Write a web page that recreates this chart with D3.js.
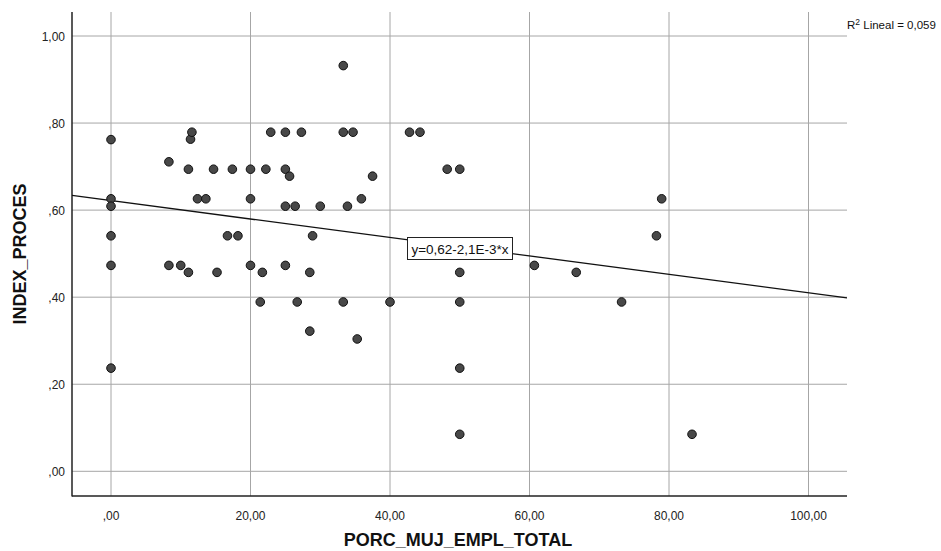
<!DOCTYPE html>
<html lang="es">
<head>
  <meta charset="UTF-8">
  <title>INDEX_PROCES vs PORC_MUJ_EMPL_TOTAL</title>
  <style>
    body {
      margin: 0;
      padding: 0;
      background: #fff;
      font-family: "Liberation Sans", Arial, sans-serif;
    }
    .grid line { stroke: #a6a6a6; stroke-width: 1; }
    .tick-label { font-size: 12px; fill: #222; }
    .axis-title { font-size: 18px; font-weight: bold; fill: #111; }
  </style>
</head>
<body>
<svg width="941" height="551"></svg>
<script src="https://d3js.org/d3.v7.min.js"></script>
<script>
// porcentaje de mujeres empleadas (x) and index (y)
const porcMuj = [
  0, 0, 0, 0, 0, 0,
  8.3, 8.3, 10.0,
  11.1, 11.4, 11.6, 11.1,
  12.4, 13.6,
  14.7, 15.2,
  16.7, 17.4, 18.2,
  20.0, 20.0, 20.0,
  21.4, 21.7,
  22.2, 22.9,
  25.0, 25.0, 25.0, 25.0, 25.6,
  26.4, 26.7,
  27.3,
  28.5, 28.5, 28.9,
  30.0,
  33.3, 33.3, 33.3, 33.9,
  34.7, 35.3, 35.9,
  37.5,
  40.0,
  42.8, 44.3,
  48.2, 50.0, 50.0, 50.0, 50.0, 50.0,
  60.7, 66.7, 73.2,
  78.2, 78.95,
  83.3
];
const indexProces = [
  0.762, 0.626, 0.609, 0.541, 0.473, 0.237,
  0.711, 0.473, 0.473,
  0.694, 0.763, 0.779, 0.457,
  0.626, 0.626,
  0.694, 0.457,
  0.541, 0.694, 0.541,
  0.694, 0.626, 0.473,
  0.389, 0.457,
  0.694, 0.779,
  0.779, 0.694, 0.609, 0.473, 0.678,
  0.609, 0.389,
  0.779,
  0.457, 0.322, 0.541,
  0.609,
  0.932, 0.779, 0.389, 0.609,
  0.779, 0.304, 0.626,
  0.678,
  0.389,
  0.779, 0.779,
  0.694, 0.694, 0.457, 0.389, 0.237, 0.085,
  0.473, 0.457, 0.389,
  0.541, 0.626,
  0.085
];
const xTicks = [0, 20, 40, 60, 80, 100];
const yTicks = [0, 0.2, 0.4, 0.6, 0.8, 1.0];
const fitIntercept = 0.622;
const fitSlope = -0.00212;
const fitLabel = "y=0,62-2,1E-3*x";
const r2Value = "0,059";

const plotLeft = 72, plotRight = 847, plotTop = 12, plotBottom = 496;

const svg = d3.select("svg");

const x = d3.scaleLinear().domain([0, 100]).range([111, 808.5]);
const y = d3.scaleLinear().domain([0, 1]).range([471.3, 36]);

// comma decimal, SPSS drops the leading zero
const fmt = v => {
  const s = v.toFixed(2).replace(".", ",");
  return s.startsWith("0,") ? s.slice(1) : s;
};

const grid = svg.append("g").attr("class", "grid");
grid.selectAll("line.h")
  .data(yTicks)
  .enter().append("line")
  .attr("class", "h")
  .attr("x1", plotLeft).attr("x2", plotRight)
  .attr("y1", d => y(d)).attr("y2", d => y(d));
grid.selectAll("line.v")
  .data(xTicks)
  .enter().append("line")
  .attr("class", "v")
  .attr("y1", plotTop).attr("y2", plotBottom)
  .attr("x1", d => x(d)).attr("x2", d => x(d));

// axes
svg.append("line")
  .attr("x1", plotLeft).attr("x2", plotLeft).attr("y1", plotTop).attr("y2", plotBottom + 0.5)
  .attr("stroke", "#222").attr("stroke-width", 1.5);
svg.append("line")
  .attr("x1", plotLeft).attr("x2", plotRight).attr("y1", plotBottom).attr("y2", plotBottom)
  .attr("stroke", "#222").attr("stroke-width", 1.5);

svg.selectAll("text.ytick")
  .data(yTicks)
  .enter().append("text")
  .attr("class", "tick-label")
  .attr("x", 65)
  .attr("y", d => y(d) + 4.5)
  .attr("text-anchor", "end")
  .text(fmt);

svg.selectAll("text.xtick")
  .data(xTicks)
  .enter().append("text")
  .attr("class", "tick-label")
  .attr("x", d => x(d))
  .attr("y", 520)
  .attr("text-anchor", "middle")
  .text(fmt);

// fit line across the whole plot
const x0 = x.invert(plotLeft), x1 = x.invert(plotRight);
svg.append("line")
  .attr("x1", plotLeft).attr("y1", y(fitIntercept + fitSlope * x0))
  .attr("x2", plotRight).attr("y2", y(fitIntercept + fitSlope * x1))
  .attr("stroke", "#111").attr("stroke-width", 1.3);

// points
const pts = porcMuj.map((v, i) => ({x: v, y: indexProces[i]}));
svg.selectAll("circle")
  .data(pts)
  .enter().append("circle")
  .attr("cx", d => x(d.x))
  .attr("cy", d => y(d.y))
  .attr("r", 4.3)
  .attr("fill", "#484848")
  .attr("stroke", "#111")
  .attr("stroke-width", 1);

// fit equation box
const lab = svg.append("g");
lab.append("rect")
  .attr("x", 407.5).attr("y", 237.5)
  .attr("width", 105).attr("height", 22)
  .attr("fill", "#fff").attr("stroke", "#222").attr("stroke-width", 1);
lab.append("text")
  .attr("x", 460).attr("y", 253.5)
  .attr("text-anchor", "middle")
  .attr("font-size", 13.5)
  .attr("fill", "#111")
  .text(fitLabel);

// R2 label
const r2 = svg.append("text")
  .attr("x", 847).attr("y", 29)
  .attr("font-size", 11.5)
  .attr("fill", "#111");
r2.append("tspan").text("R");
r2.append("tspan").attr("dy", -4.5).attr("font-size", 8.5).text("2");
r2.append("tspan").attr("dy", 4.5).text(" Lineal = " + r2Value);

// axis titles
svg.append("text")
  .attr("class", "axis-title")
  .attr("x", 458).attr("y", 546)
  .attr("text-anchor", "middle")
  .text("PORC_MUJ_EMPL_TOTAL");

svg.append("text")
  .attr("class", "axis-title")
  .attr("transform", "translate(26,254) rotate(-90)")
  .attr("text-anchor", "middle")
  .text("INDEX_PROCES");
</script>
</body>
</html>
